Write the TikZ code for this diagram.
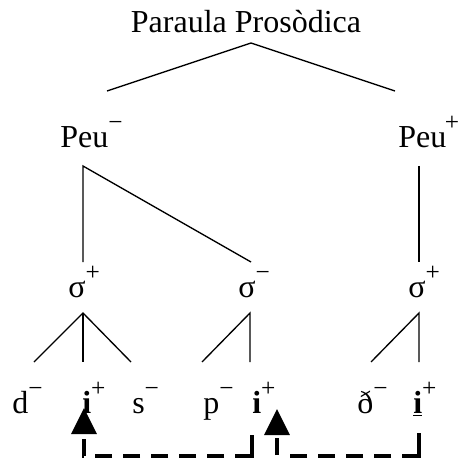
\documentclass[tikz,border=0pt]{standalone}
\usepackage{fontspec}
\setmainfont{Liberation Serif}
\usetikzlibrary{arrows.meta}
\newcommand{\sgn}[1]{\raisebox{12.75pt}{\fontsize{19}{19}\selectfont #1}}

\begin{document}
\begin{tikzpicture}[x=0.75pt,y=0.75pt,yscale=-1,
  lbl/.style={anchor=base west,inner sep=0pt,font=\fontsize{24}{28}\selectfont},
  branch/.style={line width=1pt},
  link/.style={line width=2.6pt,-{Triangle[length=19.5pt,width=18.75pt]}}]
\useasboundingbox (0,0) rectangle (458,459);
% labels
\node[lbl,anchor=base] (pw) at (246,33) {Paraula Prosòdica};
\node[lbl] (peuL) at (60,148) {Peu\sgn{−}};
\node[lbl] (peuR) at (398,148) {Peu\kern-1pt\sgn{+}};
\node[lbl] (sylA) at (68,297) {σ\sgn{+}};
\node[lbl] (sylB) at (238,297) {σ\sgn{−}};
\node[lbl] (sylC) at (408,297) {σ\sgn{+}};
\node[lbl] (segA) at (12,413) {d\sgn{−}};
\node[lbl] (segB) at (82,413) {\textbf{i}\sgn{+}};
\node[lbl] (segC) at (132,413) {s\sgn{−}};
\node[lbl] (segD) at (203,413) {p\sgn{−}};
\node[lbl] (segE) at (252,413) {\textbf{i}\sgn{+}};
\node[lbl] (segF) at (357,413) {ð\sgn{−}};
\node[lbl] (segG) at (413,413) {\underline{\textbf{i}}\sgn{+}};
% branch ends
\coordinate (pwTop) at (251,43);
\coordinate (pwL) at (107,91);
\coordinate (pwR) at (395,91);
\coordinate (peuLTop) at (83,166);
\coordinate (peuRTop) at (419,166);
\coordinate (sylATop) at (83,262);
\coordinate (sylBTop) at (251,262);
\coordinate (sylCTop) at (419,262);
\coordinate (sylAfoot) at (83,313);
\coordinate (sylBfoot) at (250,313);
\coordinate (sylCfoot) at (419,313);
\coordinate (segAtop) at (34,362);
\coordinate (segBtop) at (83,362);
\coordinate (segCtop) at (131,362);
\coordinate (segDtop) at (202,362);
\coordinate (segEtop) at (250,362);
\coordinate (segFtop) at (371,362);
\coordinate (segGtop) at (419,362);
% tree
\draw[branch] (pwL) -- (pwTop) -- (pwR);
\draw[branch] (sylATop) -- (peuLTop) -- (sylBTop);
\draw[branch] (peuRTop) -- (sylCTop);
\draw[branch] (segAtop) -- (sylAfoot) -- (segCtop);
\draw[branch] (sylAfoot) -- (segBtop);
\draw[branch] (segDtop) -- (sylBfoot) -- (segEtop);
\draw[branch] (segFtop) -- (sylCfoot) -- (segGtop);
% links
\coordinate (tailA) at (252,435);
\coordinate (tipA) at (84,408);
\coordinate (tailB) at (419,433);
\coordinate (tipB) at (277,409);
\draw[link,dash pattern=on 28.5pt off 8.25pt on 12.75pt off 8.25pt on 12.75pt off 8.25pt on 12.75pt off 8.25pt on 12.75pt off 8.25pt on 12.75pt off 8.25pt on 12.75pt off 30pt]
  (tailA) -- ++(0,21) -| (tipA);
\draw[link,dash pattern=on 30pt off 8.25pt on 12.75pt off 8.25pt on 12.75pt off 8.25pt on 12.75pt off 8.25pt on 12.75pt off 10.5pt on 12.75pt off 30pt]
  (tailB) -- ++(0,23) -| (tipB);
\end{tikzpicture}
\end{document}
